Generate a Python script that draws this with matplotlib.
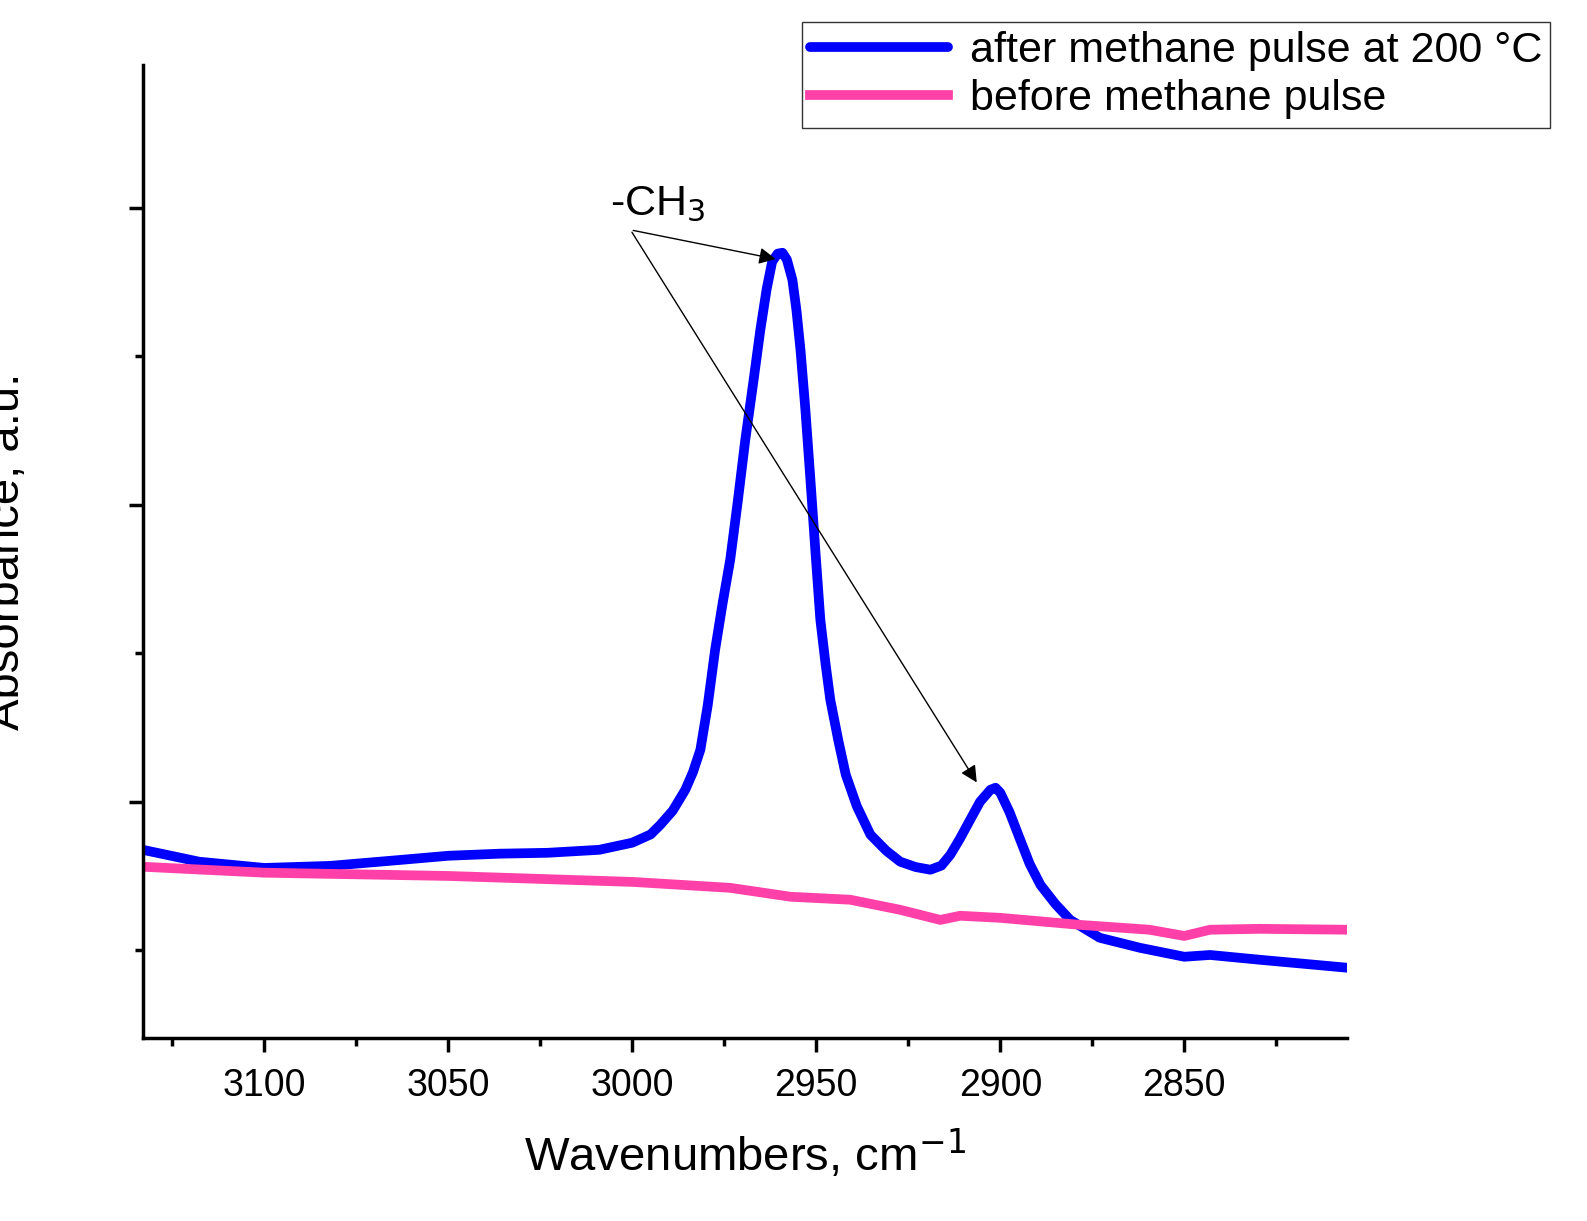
import matplotlib
matplotlib.use("Agg")
import matplotlib.pyplot as plt
from matplotlib.ticker import MultipleLocator

plt.rcParams['font.family'] = ['Liberation Sans', 'DejaVu Sans']

after_x = [3133, 3117.7, 3100, 3082, 3063, 3050, 3036, 3023, 3009, 3000, 2995, 2992.4, 2989, 2985.6, 2983.5, 2981.5,
           2979.5, 2977.5, 2975.5, 2973.4, 2971.3, 2969.3, 2967.2, 2965.2, 2963.5, 2962, 2960.5, 2959.2, 2958, 2956.5,
           2955.4, 2954.3, 2953, 2951.6, 2950.2, 2948.9, 2947.5, 2946.2, 2944, 2942, 2939, 2935.3, 2931, 2927.2,
           2923, 2919, 2916, 2913.6, 2911, 2908.2, 2905.5, 2902.7, 2901.3, 2900, 2897.5, 2894.6, 2892, 2889.1,
           2885, 2881, 2873, 2862, 2850, 2843, 2829.6, 2805.7]
after_y = [0.633, 0.593, 0.572, 0.579, 0.599, 0.613, 0.620, 0.623, 0.633, 0.657, 0.685, 0.717, 0.765, 0.835, 0.895, 0.970,
           1.120, 1.306, 1.460, 1.609, 1.810, 2.013, 2.200, 2.384, 2.520, 2.613, 2.640, 2.643, 2.620, 2.552,
           2.450, 2.316, 2.120, 1.879, 1.630, 1.407, 1.260, 1.138, 1.000, 0.886, 0.780, 0.684, 0.630, 0.593,
           0.575, 0.566, 0.580, 0.616, 0.670, 0.734, 0.795, 0.835, 0.842, 0.825, 0.760, 0.667, 0.585, 0.515,
           0.450, 0.397, 0.337, 0.303, 0.273, 0.279, 0.263, 0.236]
before_x = [3133, 3100, 3050, 3000, 2973.4, 2957, 2940.8, 2927.2, 2916.3, 2910.9, 2900, 2878,
            2859.5, 2850, 2843, 2829.6, 2805.7]
before_y = [0.576, 0.556, 0.545, 0.525, 0.505, 0.475, 0.465, 0.431, 0.397, 0.411, 0.404, 0.380,
            0.364, 0.343, 0.364, 0.367, 0.364]
xticks = [3100, 3050, 3000, 2950, 2900, 2850]

fig = plt.figure(figsize=(15.87, 12.21), dpi=100)
ax = fig.add_axes([0.090, 0.150, 0.759, 0.797])
l1, = ax.plot(after_x, after_y, color='#0000ff', lw=7, label='after methane pulse at 200 °C',
              solid_joinstyle='round', solid_capstyle='round')
l2, = ax.plot(before_x, before_y, color='#ff40a8', lw=7, label='before methane pulse',
              solid_joinstyle='round')
ax.set_xlim(3133, 2805.7)
ax.set_ylim(0, 3.276)
ax.set_xticks(xticks)
ax.xaxis.set_minor_locator(MultipleLocator(25))
ax.set_yticks([0.795, 1.795, 2.795])
ax.set_yticks([0.295, 1.295, 2.295], minor=True)
ax.set_yticklabels([])
for s in ['top', 'right']:
    ax.spines[s].set_visible(False)
for s in ['left', 'bottom']:
    ax.spines[s].set_linewidth(2.5)
ax.tick_params(which='major', direction='out', length=10, width=2.5, labelsize=27, pad=12)
ax.tick_params(which='minor', direction='out', length=6, width=2.5)
ax.set_xlabel('Wavenumbers, cm$^{-1}$', fontsize=34, labelpad=16)
ax.set_ylabel('Absorbance, a.u.', fontsize=34, labelpad=60)

ax.text(2993, 2.74, '-CH$_3$', fontsize=31, ha='center', va='bottom')
for tgt in [(2960.3, 2.62), (2906, 0.852)]:
    ax.annotate('', xy=tgt, xytext=(3000.5, 2.72),
                arrowprops=dict(arrowstyle='-|>', color='black', lw=1, mutation_scale=25))

fig.legend(handles=[l1, l2], loc='upper right', bbox_to_anchor=(0.977, 0.982), fontsize=31,
           frameon=True, fancybox=False, edgecolor='black', handlelength=3.2, handletextpad=0.5,
           borderpad=0.2, labelspacing=0.2, borderaxespad=0).get_frame().set_linewidth(1)

fig.savefig('out.png', dpi=100)
